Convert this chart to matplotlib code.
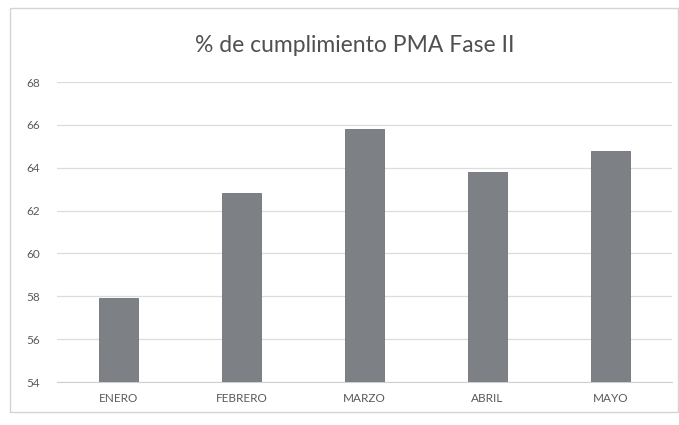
import matplotlib.pyplot as plt
import matplotlib.patches as mpatches

meses = ["ENERO", "FEBRERO", "MARZO", "ABRIL", "MAYO"]
cumplimiento = [57.9, 62.8, 65.8, 63.8, 64.8]
y_ticks = [54, 56, 58, 60, 62, 64, 66, 68]
titulo = "% de cumplimiento PMA Fase II"


def main() -> None:
    plt.rcParams["font.family"] = ["Lato", "DejaVu Sans"]

    fig = plt.figure(figsize=(6.79, 4.25), dpi=100)
    ax = fig.add_axes([57 / 679, 0.101, 615 / 679, 0.706])

    # light chart frame like the Excel chart area
    fig.patches.append(mpatches.Rectangle((10 / 679, 13 / 425), 668 / 679, 404 / 425,
                                          transform=fig.transFigure, fill=False,
                                          edgecolor="#d4d4d4", linewidth=1.0))

    x = range(len(meses))
    ax.bar(x, [v - 54 for v in cumplimiento], bottom=54, width=0.31,
           color="#7d8085", edgecolor="#6f7276", linewidth=0.6, zorder=3)

    ax.set_xlim(-0.5, len(meses) - 0.5)
    ax.set_ylim(54, 68)
    ax.set_yticks(y_ticks)
    ax.set_xticks(list(x))
    ax.set_xticklabels(meses)
    ax.grid(axis="y", color="#dcdcdc", linewidth=0.9, zorder=0)

    for side in ("top", "right", "left"):
        ax.spines[side].set_visible(False)
    ax.spines["bottom"].set_color("#d0d0d0")
    ax.tick_params(axis="both", length=0, labelsize=8.5, colors="#5a5a5a")
    ax.tick_params(axis="y", pad=12)
    ax.tick_params(axis="x", pad=8)

    fig.text(0.523, 0.892, titulo, ha="center", va="center", fontsize=16.5, color="#505050")

    fig.savefig("out.png", dpi=100)


if __name__ == "__main__":
    main()
